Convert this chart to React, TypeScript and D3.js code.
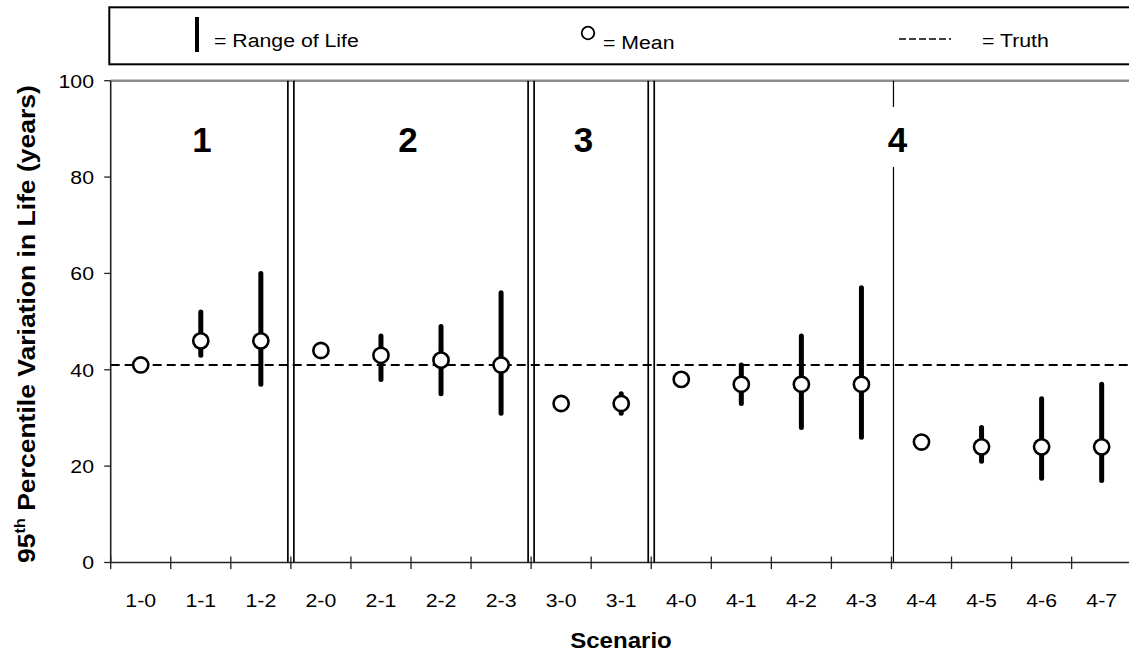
import React, { useRef, useEffect } from "react";
import * as d3 from "d3";

const scenarios = ["1-0", "1-1", "1-2", "2-0", "2-1", "2-2", "2-3", "3-0", "3-1",
  "4-0", "4-1", "4-2", "4-3", "4-4", "4-5", "4-6", "4-7"];
const means = [41, 46, 46, 44, 43, 42, 41, 33, 33, 38, 37, 37, 37, 25, 24, 24, 24];
const rangeLow = [null, 43, 37, null, 38, 35, 31, null, 31, null, 33, 28, 26, null, 21, 17.5, 17];
const rangeHigh = [null, 52, 60, null, 47, 49, 56, null, 35, null, 41, 47, 57, null, 28, 34, 37];
const truthLife = 41;
const yTicks = [0, 20, 40, 60, 80, 100];
const groupLabels = ["1", "2", "3", "4"];
const groupLabelPos = [1.52, 4.95, 7.87, 13.1]; // in scenario units
const doubleDividers = [3, 7, 9];
const singleDividers = [13];

const W = 1129;
const H = 658;
const FONT = "Arial, 'Liberation Sans', Helvetica, sans-serif";

const App = () => {
  const svgRef = useRef<SVGSVGElement>(null);

  useEffect(() => {
    const svg = d3.select(svgRef.current);
    svg.selectAll("*").remove();

    const x = d3.scaleLinear().domain([0, scenarios.length]).range([110.7, 1131.7]);
    const y = d3.scaleLinear().domain([0, 100]).range([562.5, 80.7]);
    const cx = (i: number) => x(i + 0.5);
    const sx = 1.12; // original text is a bit wide

    const txt = (g: any, tx: number, ty: number, s: string, size: number, anchor = "start", bold = false) =>
      g.append("g")
        .attr("transform", `translate(${tx},${ty}) scale(${sx},1)`)
        .append("text")
        .attr("text-anchor", anchor)
        .attr("font-family", FONT)
        .attr("font-size", size)
        .attr("font-weight", bold ? "bold" : "normal")
        .attr("fill", "#000")
        .text(s);

    // legend
    const lg = svg.append("g");
    lg.append("rect")
      .attr("x", 109.3).attr("y", 7.3).attr("width", 1040).attr("height", 57)
      .attr("fill", "#fff").attr("stroke", "#000").attr("stroke-width", 2);
    lg.append("line").attr("x1", 197).attr("x2", 197).attr("y1", 17).attr("y2", 52)
      .attr("stroke", "#000").attr("stroke-width", 4);
    txt(lg, 214, 47, "= Range of Life", 19);
    lg.append("circle").attr("cx", 588).attr("cy", 33).attr("r", 6.3)
      .attr("fill", "#fff").attr("stroke", "#000").attr("stroke-width", 1.8);
    txt(lg, 603, 49, "= Mean", 19);
    lg.append("line").attr("x1", 899).attr("x2", 951).attr("y1", 39).attr("y2", 39)
      .attr("stroke", "#000").attr("stroke-width", 1.5).attr("stroke-dasharray", "7,3");
    txt(lg, 982, 47, "= Truth", 19);

    // top gray border of plot
    svg.append("line").attr("x1", x(0)).attr("x2", W).attr("y1", y(100)).attr("y2", y(100))
      .attr("stroke", "#8c8c8c").attr("stroke-width", 2.5);

    // group dividers
    svg.selectAll(".dbl")
      .data(doubleDividers.flatMap(b => [x(b) - 3, x(b) + 3]))
      .join("line")
      .attr("class", "dbl")
      .attr("x1", d => d).attr("x2", d => d)
      .attr("y1", y(100)).attr("y2", y(0))
      .attr("stroke", "#000").attr("stroke-width", 1.7);
    singleDividers.forEach(b => {
      [[y(100), 107], [167, y(0)]].forEach(([a, c]) => {
        svg.append("line").attr("x1", x(b) + 2).attr("x2", x(b) + 2).attr("y1", a).attr("y2", c)
          .attr("stroke", "#000").attr("stroke-width", 1.2);
      });
    });

    // group labels
    groupLabels.forEach((l, i) => {
      svg.append("text")
        .attr("x", x(groupLabelPos[i])).attr("y", 152)
        .attr("text-anchor", "middle")
        .attr("font-family", FONT).attr("font-size", 35).attr("font-weight", "bold")
        .text(l);
    });

    // truth
    svg.append("line").attr("x1", x(0)).attr("x2", W).attr("y1", y(truthLife)).attr("y2", y(truthLife))
      .attr("stroke", "#000").attr("stroke-width", 1.9).attr("stroke-dasharray", "9,5");

    // y axis
    svg.append("line").attr("x1", x(0)).attr("x2", x(0)).attr("y1", y(100)).attr("y2", y(0))
      .attr("stroke", "#222").attr("stroke-width", 1.6);
    yTicks.forEach(v => {
      svg.append("line").attr("x1", x(0) - 6.5).attr("x2", x(0)).attr("y1", y(v)).attr("y2", y(v))
        .attr("stroke", "#222").attr("stroke-width", 1.3);
      txt(svg, 94, y(v) + 6.8, String(v), 19, "end");
    });

    // x axis
    svg.append("line").attr("x1", x(0)).attr("x2", W).attr("y1", y(0)).attr("y2", y(0))
      .attr("stroke", "#222").attr("stroke-width", 1.6);
    svg.selectAll(".xtick")
      .data(d3.range(0, scenarios.length + 1))
      .join("line")
      .attr("class", "xtick")
      .attr("x1", d => x(d)).attr("x2", d => x(d))
      .attr("y1", y(0) - 6).attr("y2", y(0) + 6.5)
      .attr("stroke", "#222").attr("stroke-width", 1.3);
    scenarios.forEach((s, i) => txt(svg, cx(i), 607, s, 19, "middle"));

    txt(svg, 621, 648, "Scenario", 21.5, "middle", true);

    // y title
    const tg = svg.append("g");
    const tt = tg.append("text")
      .attr("text-anchor", "middle")
      .attr("font-family", FONT).attr("font-size", 23).attr("font-weight", "bold");
    tt.append("tspan").text("95");
    tt.append("tspan").attr("font-size", 14).attr("dy", -10).text("th");
    tt.append("tspan").attr("dy", 10).text(" Percentile Variation in Life (years)");
    const len = (tt.node() as SVGTextElement).getComputedTextLength() || 400;
    tg.attr("transform", `translate(35,${(85 + 563) / 2}) rotate(-90) scale(${478 / len},1)`);

    // ranges
    svg.selectAll(".rng")
      .data(scenarios.map((s, i) => i).filter(i => rangeLow[i] != null))
      .join("line")
      .attr("class", "rng")
      .attr("x1", i => cx(i)).attr("x2", i => cx(i))
      .attr("y1", i => y(rangeLow[i] as number)).attr("y2", i => y(rangeHigh[i] as number))
      .attr("stroke", "#000").attr("stroke-width", 5).attr("stroke-linecap", "round");

    // means
    svg.selectAll(".mean")
      .data(means)
      .join("circle")
      .attr("class", "mean")
      .attr("cx", (d, i) => cx(i)).attr("cy", d => y(d))
      .attr("r", 7.6)
      .attr("fill", "#fff").attr("stroke", "#000").attr("stroke-width", 2.6);
  }, []);

  return (
    <svg
      ref={svgRef}
      width={W}
      height={H}
      style={{ position: "absolute", left: 0, top: 0, background: "#fff" }}
    />
  );
};

export default App;
